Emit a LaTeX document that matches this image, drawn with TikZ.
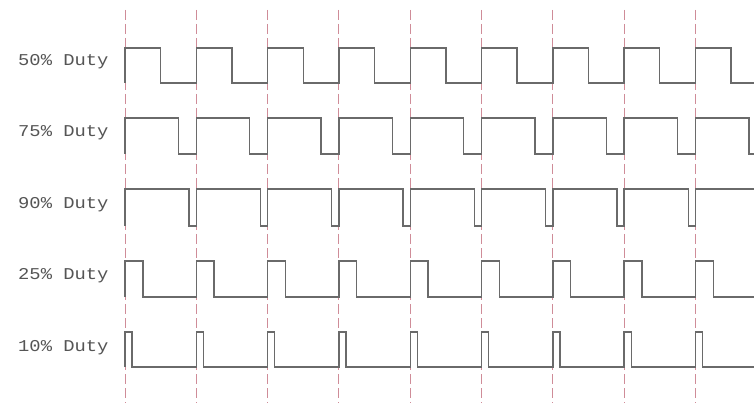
\documentclass[tikz,border=0pt]{standalone}
\usepackage{fontspec}
\newfontfamily\lblfont{Liberation Mono}
\definecolor{wavegray}{HTML}{6A6A6A}
\definecolor{labelgray}{HTML}{555555}
\definecolor{guidered}{HTML}{CF8C98}
\newcommand\pwmwave[3]{% top, bottom, duty
  \draw[wave] (125,#2) \foreach \k in {0,...,8} {
    -- ({125+\k*71.3},#1) -- ({125+(\k+#3)*71.3},#1)
    -- ({125+(\k+#3)*71.3},#2) -- ({125+(\k+1)*71.3},#2) };
}
\begin{document}
\begin{tikzpicture}[x=1pt,y=-1pt,
  wave/.style={draw=wavegray, line width=1.4pt, line join=miter},
  guide/.style={draw=guidered, line width=1pt, dash pattern=on 10pt off 4pt},
  lbl/.style={font=\lblfont\fontsize{16.5}{16.5}\selectfont, text=labelgray, anchor=west, inner sep=0pt}]
\useasboundingbox (0,0) rectangle (754,403);
\fill[white] (0,0) rectangle (754,403);
\foreach \i in {0,...,8} \draw[guide] ({125+\i*71.3},10) -- ({125+\i*71.3},403);
\begin{scope}
\clip (0,0) rectangle (754,403);
\pwmwave{48}{83}{0.5}
\pwmwave{118}{154}{0.75}
\pwmwave{189}{226}{0.9}
\pwmwave{261}{297}{0.25}
\pwmwave{332}{367}{0.1}
\end{scope}
\node[lbl] (d50) at (18,62) {\scalebox{1.14}[1]{50\% Duty}};
\node[lbl] (d75) at (18,133) {\scalebox{1.14}[1]{75\% Duty}};
\node[lbl] (d90) at (18,205) {\scalebox{1.14}[1]{90\% Duty}};
\node[lbl] (d25) at (18,276) {\scalebox{1.14}[1]{25\% Duty}};
\node[lbl] (d10) at (18,348) {\scalebox{1.14}[1]{10\% Duty}};
\end{tikzpicture}
\end{document}
